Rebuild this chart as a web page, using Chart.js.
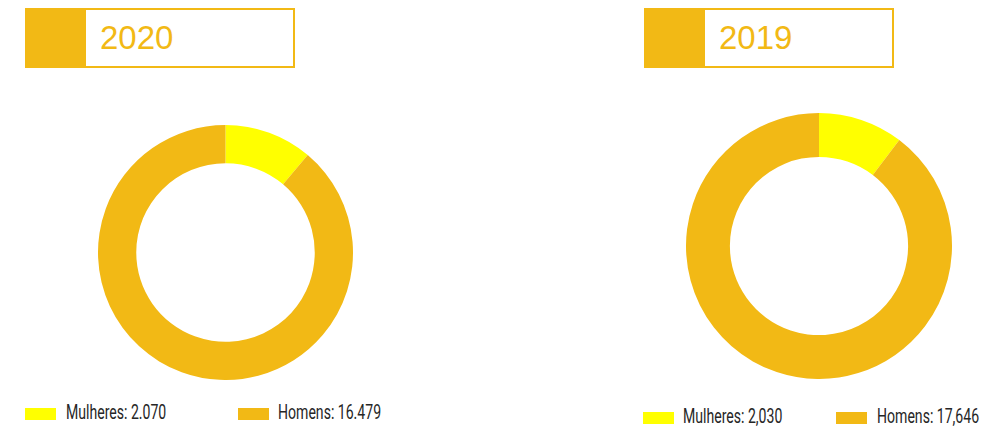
<!DOCTYPE html>
<html>
<head>
<meta charset="utf-8">
<script src="https://cdn.jsdelivr.net/npm/chart.js@4/dist/chart.umd.min.js"></script>
<style>
  body { margin: 0; background: #fff; width: 1001px; height: 428px; position: relative; overflow: hidden; }
  .head { position: absolute; top: 8px; height: 60px; box-sizing: border-box; border: 2px solid #F2B915; }
  .head .fill { position: absolute; left: -2px; top: -2px; width: 61px; height: 60px; background: #F2B915; }
  .head .txt { position: absolute; top: 9px; font: 33px "Liberation Sans", Arial, sans-serif; color: #F2B915; }
  .pie { position: absolute; }
  .leg { position: absolute; font: 21px Roboto, sans-serif; color: #262626; white-space: nowrap; }
  .leg .sw { position: absolute; width: 31px; height: 12px; }
  .leg .lbl { position: absolute; transform: scaleX(0.67); transform-origin: 0 0; line-height: 21px; }
</style>
</head>
<body>
<div class="head" style="left:25px;width:270px"><div class="fill"></div><div class="txt" style="left:73px">2020</div></div>
<div class="head" style="left:644px;width:250px"><div class="fill"></div><div class="txt" style="left:73px">2019</div></div>

<div class="pie" style="left:98px;top:125px;width:255px;height:255px"><canvas id="pie2020"></canvas></div>
<div class="pie" style="left:686px;top:113px;width:266px;height:266px"><canvas id="pie2019"></canvas></div>

<div id="leg2020"></div>
<div id="leg2019"></div>

<script>
const categories = ['Mulheres', 'Homens'];
const colors = ['#FFFF00', '#F2B915'];
const values2020 = [2070, 16479];
const values2019 = [2030, 17646];
const labels2020 = ['2.070', '16.479'];
const labels2019 = ['2,030', '17,646'];

function makeDonut(id, values, cutout) {
    const ctx = document.getElementById(id).getContext('2d');
    return new Chart(ctx, {
        type: 'doughnut',
        data: {
            labels: categories,
            datasets: [{
                data: values,
                backgroundColor: colors,
                borderWidth: 0
            }]
        },
        options: {
            responsive: true,
            maintainAspectRatio: false,
            animation: false,
            cutout: cutout,
            layout: { padding: 0 },
            plugins: { legend: { display: false }, tooltip: { enabled: false } }
        }
    });
}

makeDonut('pie2020', values2020, '70%');
makeDonut('pie2019', values2019, '67%');

// legends: [swatch x, text x] for each category, plus swatch top / text top
function makeLegend(id, labels, pos, swTop, txtTop) {
    const wrap = document.getElementById(id);
    categories.forEach((cat, i) => {
        const item = document.createElement('div');
        item.className = 'leg';
        item.style.left = '0px';
        item.style.top = '0px';
        const sw = document.createElement('span');
        sw.className = 'sw';
        sw.style.left = pos[i][0] + 'px';
        sw.style.top = swTop + 'px';
        sw.style.background = colors[i];
        const lbl = document.createElement('span');
        lbl.className = 'lbl';
        lbl.style.left = pos[i][1] + 'px';
        lbl.style.top = txtTop + 'px';
        lbl.textContent = cat + ': ' + labels[i];
        item.appendChild(sw);
        item.appendChild(lbl);
        wrap.appendChild(item);
    });
}

makeLegend('leg2020', labels2020, [[25, 66], [238, 278]], 408, 402);
makeLegend('leg2019', labels2019, [[643, 683], [836, 877]], 412, 406);
</script>
</body>
</html>
